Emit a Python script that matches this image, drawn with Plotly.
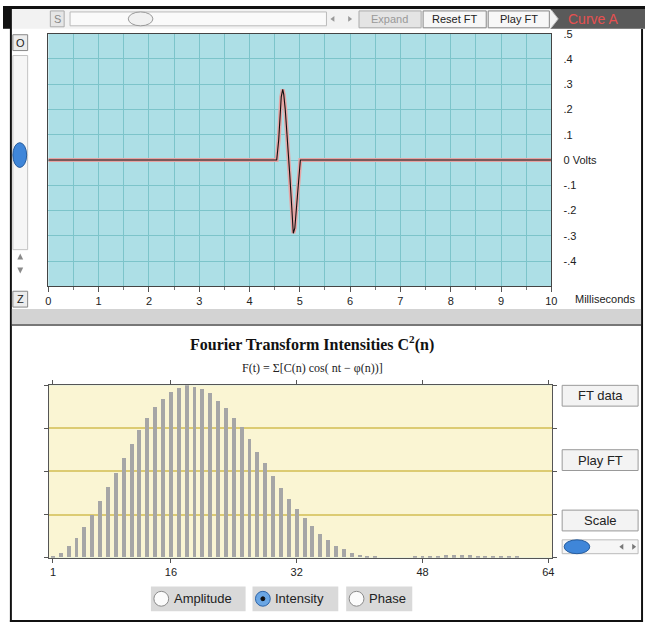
import plotly.graph_objects as go

# ---------------- data ----------------
time_ms = [0, 4.54, 4.58, 4.61, 4.63, 4.66, 4.68, 4.71, 4.76, 4.80, 4.84, 4.87, 4.90, 4.93, 4.97, 5.01, 10]
volts = [0, 0, 0.08, 0.18, 0.25, 0.28, 0.26, 0.20, 0.07, -0.06, -0.19, -0.29, -0.27, -0.19, -0.07, 0, 0]

time_ticks = [0, 1, 2, 3, 4, 5, 6, 7, 8, 9, 10]
volt_ticks = [-0.4, -0.3, -0.2, -0.1, 0, 0.1, 0.2, 0.3, 0.4, 0.5]
volt_labels = ["-.4", "-.3", "-.2", "-.1", "0 Volts", ".1", ".2", ".3", ".4", ".5"]

harmonic_n = list(range(1, 65))
intensity = [0.008, 0.027, 0.067, 0.113, 0.174, 0.247, 0.328, 0.406, 0.492, 0.579,
             0.659, 0.738, 0.810, 0.872, 0.918, 0.958, 0.985, 1.000, 0.990, 0.979,
             0.952, 0.910, 0.864, 0.810, 0.755, 0.686, 0.613, 0.546, 0.473, 0.404,
             0.341, 0.282, 0.228, 0.180, 0.134, 0.100, 0.067, 0.046, 0.027, 0.013,
             0.006, 0.003, 0, 0, 0, 0, 0.004, 0.006, 0.008, 0.010,
             0.011, 0.011, 0.011, 0.011, 0.010, 0.008, 0.007, 0.006, 0.005, 0.004,
             0, 0, 0, 0]
harmonic_ticks = [1, 16, 32, 48, 64]

# ---------------- helpers for UI chrome (pixel -> paper) ----------------
W, H = 651, 626
SANS = "Liberation Sans"
SERIF = "Liberation Serif"
shapes = []
annotations = []


def fx(x):
    return x / W


def fy(y):
    return 1 - y / H


def rect(x0, y0, x1, y1, fill, line="rgba(0,0,0,0)", lw=1):
    shapes.append(dict(type="rect", xref="paper", yref="paper",
                       x0=fx(x0), x1=fx(x1), y0=fy(y1), y1=fy(y0),
                       fillcolor=fill, line=dict(color=line, width=lw), layer="above"))


def oval(x0, y0, x1, y1, fill, line="rgba(0,0,0,0)", lw=1):
    shapes.append(dict(type="circle", xref="paper", yref="paper",
                       x0=fx(x0), x1=fx(x1), y0=fy(y1), y1=fy(y0),
                       fillcolor=fill, line=dict(color=line, width=lw), layer="above"))


def poly(points, fill, line="rgba(0,0,0,0)", lw=1, close=True):
    p = "M " + " L ".join(f"{fx(a):.5f},{fy(b):.5f}" for a, b in points) + (" Z" if close else "")
    shapes.append(dict(type="path", xref="paper", yref="paper", path=p,
                       fillcolor=fill, line=dict(color=line, width=lw), layer="above"))


def text(x, y, s, size=11, color="#222", family=SANS, xanchor="center"):
    annotations.append(dict(xref="paper", yref="paper", x=fx(x), y=fy(y), text=s,
                            showarrow=False, xanchor=xanchor, yanchor="middle",
                            font=dict(size=size, color=color, family=family)))


# ---------------- figure ----------------
fig = go.Figure()

fig.add_trace(go.Scatter(x=time_ms, y=volts, mode="lines", xaxis="x", yaxis="y",
                         line=dict(color="#e6a4a4", width=4), hoverinfo="skip", showlegend=False))
fig.add_trace(go.Scatter(x=time_ms, y=volts, mode="lines", xaxis="x", yaxis="y",
                         line=dict(color="#111111", width=1.1), showlegend=False))

fig.add_trace(go.Bar(x=harmonic_n, y=intensity, xaxis="x2", yaxis="y2", width=0.5,
                     marker=dict(color="#a6a6a6", line=dict(width=0)), showlegend=False))

TOP_GRID = "#7cc4ca"
BOT_GRID = "#dccb72"

fig.update_layout(
    width=W, height=H, autosize=False,
    margin=dict(l=0, r=0, t=0, b=0),
    paper_bgcolor="white",
    plot_bgcolor="#addfe6",
    font=dict(family=SANS, size=11, color="#222"),
    xaxis=dict(domain=[fx(46), fx(556)], anchor="y", range=[0, 10],
               tickvals=time_ticks, ticks="outside", ticklen=5, tickcolor="#555",
               showgrid=True, gridcolor=TOP_GRID, gridwidth=1, zeroline=False,
               showline=True, linecolor="#444", linewidth=1, mirror=True,
               minor=dict(dtick=0.5, ticks="outside", ticklen=3, tickcolor="#777",
                          showgrid=True, gridcolor=TOP_GRID, gridwidth=1),
               tickfont=dict(size=11, color="#222")),
    yaxis=dict(domain=[fy(283), fy(28)], anchor="x", range=[-0.5, 0.5], side="right",
               tickvals=volt_ticks, ticktext=volt_labels, ticks="",
               showgrid=True, gridcolor=TOP_GRID, gridwidth=1, zeroline=False,
               showline=True, linecolor="#444", linewidth=1, mirror=True,
               ticklabelstandoff=9, tickfont=dict(size=11, color="#222")),
    xaxis2=dict(domain=[fx(46.7), fx(557)], anchor="y2", range=[0.5, 64.5],
                tickvals=harmonic_ticks, ticks="outside", ticklen=4, tickcolor="#555",
                showgrid=False, zeroline=False,
                showline=True, linecolor="#555", linewidth=1, mirror="ticks",
                tickfont=dict(size=11, color="#222")),
    yaxis2=dict(domain=[fy(557), fy(383)], anchor="x2", range=[0, 1],
                tickvals=[0, 0.25, 0.5, 0.75, 1], showticklabels=False,
                ticks="outside", ticklen=4, tickcolor="#555",
                showgrid=True, gridcolor=BOT_GRID, gridwidth=1.5, zeroline=False,
                showline=True, linecolor="#555", linewidth=1, mirror="ticks"),
    bargap=0,
)

# bottom plot background
shapes.append(dict(type="rect", xref="x2 domain", yref="y2 domain", x0=0, x1=1, y0=0, y1=1,
                   fillcolor="#faf5d3", line=dict(width=0), layer="below"))

# ---- window frame ----
rect(0, 0, 651, 3, "#111")
rect(0, 0, 9, 23, "#111")
rect(7, 0, 9, 622, "#111")
rect(7, 620, 649, 622, "#111")
rect(647, 23, 649, 622, "#111")

# ---- top toolbar ----
rect(9, 3, 651, 23, "#f2f2f2")
rect(48, 5, 62, 21, "#e6e6e6", "#aaa")
text(55, 13, "S", 11, "#888")
rect(68, 6, 328, 20, "#fafafa", "#bbb")
oval(127, 6, 152, 20, "#f1f1f1", "#999")
poly([(336, 10), (336, 16), (332, 13)], "#999")
poly([(350, 10), (350, 16), (354, 13)], "#999")
rect(361, 5, 424, 22, "#e4e4e4", "#aaa")
text(392, 13, "Expand", 11, "#999")
rect(426, 5, 490, 22, "#f7f7f7", "#888")
text(458, 13, "Reset FT", 11, "#222")
rect(492, 5, 554, 22, "#f7f7f7", "#888")
text(523, 13, "Play FT", 11, "#222")
poly([(555, 3), (651, 3), (651, 23), (555, 23), (563, 13)], "#5a5a5a")
poly([(556, 4), (563, 13), (556, 22)], "rgba(0,0,0,0)", "#bdbdbd", 1, close=False)
text(598, 13, "Curve A", 14, "#e65050")

# ---- left controls ----
rect(10, 29, 25, 45, "#ececec", "#888")
text(17.5, 37, "O", 11, "#222")
rect(10, 50, 25, 246, "#f6f6f6", "#c4c4c4")
oval(10, 138, 24, 163, "#3f86d9", "#275d9e")
poly([(14.5, 256), (20.5, 256), (17.5, 250)], "#8a8a8a")
poly([(14.5, 264), (20.5, 264), (17.5, 270)], "#8a8a8a")
rect(10, 288, 25, 304, "#ececec", "#888")
text(17.5, 296, "Z", 11, "#222")

text(610, 296, "Milliseconds", 11, "#222")

# ---- separator band ----
rect(9, 306, 647, 321, "#d3d3d3")
rect(9, 321, 647, 323, "#777")

# ---- bottom titles ----
text(313, 341, "<b>Fourier Transform Intensities C<sup>2</sup>(n)</b>", 16, "#111", SERIF)
text(314, 366, "F(t) = Σ[C(n) cos( nt − φ(n))]", 12, "#222", SERIF)

# ---- right buttons ----
for y0, label in [(383, "FT data"), (448, "Play FT"), (509, "Scale")]:
    rect(567, y0, 644, y0 + 21, "#f3f3f3", "#999")
    text(605.5, y0 + 10.5, label, 13, "#222")
rect(567, 539, 644, 553, "#f6f6f6", "#bbb")
oval(569, 539, 595, 553, "#3f86d9", "#275d9e")
poly([(629, 543), (629, 549), (625, 546)], "#777")
poly([(638, 543), (638, 549), (642, 546)], "#777")

# ---- radio buttons ----
for x0, x1, label, on in [(150, 246, "Amplitude", False), (253, 340, "Intensity", True),
                          (348, 415, "Phase", False)]:
    rect(x0, 586, x1, 611, "#d9d9d9")
    if on:
        oval(x0 + 3, 591, x0 + 18, 606, "#6aa6e4", "#2d64a8")
        oval(x0 + 8.5, 596.5, x0 + 12.5, 600.5, "#111", "#111")
    else:
        oval(x0 + 3, 591, x0 + 18, 606, "#fbfbfb", "#8a8a8a")
    text(x0 + 21, 598.5, label, 13, "#222", SANS, "left")

fig.update_layout(shapes=shapes, annotations=annotations)
fig.write_html("out.html")
